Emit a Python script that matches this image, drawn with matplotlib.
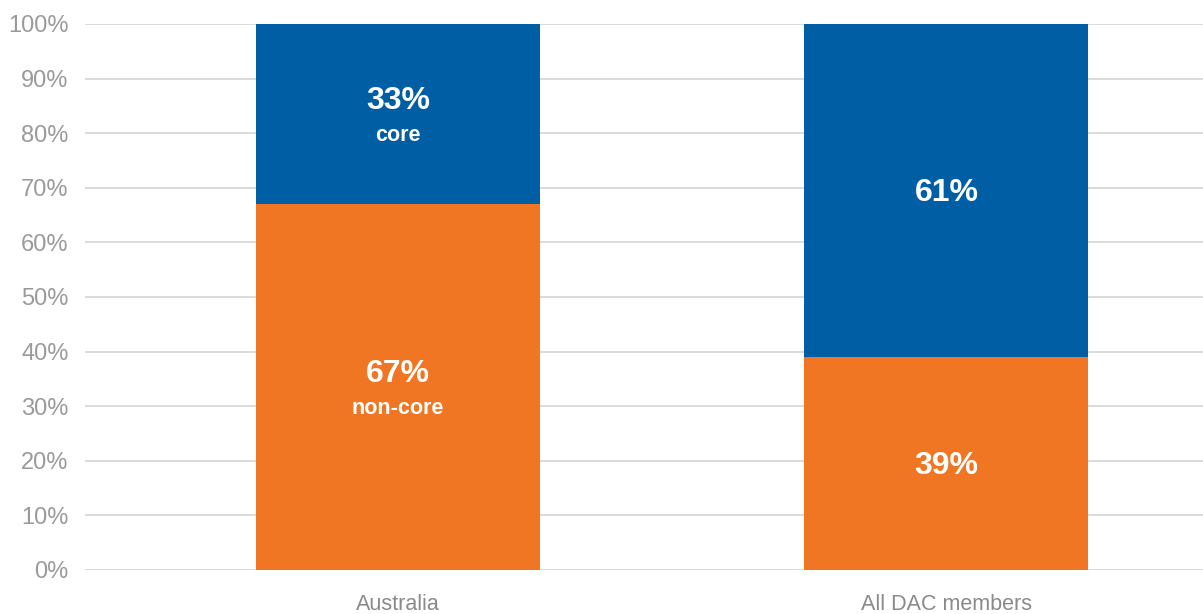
import matplotlib
matplotlib.use('Agg')
import matplotlib.pyplot as plt
import matplotlib.ticker as mticker
import numpy as np

# 数据
CATEGORIES = ['Australia', 'All DAC members']
NON_CORE = [67, 39]
CORE = [33, 61]
NON_CORE_LABELS = ['67%\nnon-core', '39%']
CORE_LABELS = ['33%\ncore', '61%']

BLUE = '#005EA5'
ORANGE = '#F07623'
GREY = '#9a9a9a'

plt.rcParams['font.family'] = ['Liberation Sans', 'DejaVu Sans']


def draw_label(ax, x, bottom, height, text):
    # 居中标注，第一行大字，第二行小字
    lines = text.split('\n')
    yc = bottom + height / 2
    if len(lines) == 1:
        ax.text(x, yc - 0.5, lines[0], ha='center', va='center', color='white',
                fontsize=23, fontweight='bold')
    else:
        ax.text(x, yc + 2.3, lines[0], ha='center', va='center', color='white',
                fontsize=23, fontweight='bold')
        ax.text(x, yc - 4.0, lines[1], ha='center', va='center', color='white',
                fontsize=15.5, fontweight='bold')


def main():
    fig = plt.figure(figsize=(12.03, 6.14), dpi=100)
    ax = fig.add_axes([0.0707, 0.0717, 0.9293, 0.8893])
    x = np.arange(len(CATEGORIES))
    w = 0.518
    ax.bar(x, NON_CORE, width=w, color=ORANGE, zorder=2)
    ax.bar(x, CORE, width=w, bottom=NON_CORE, color=BLUE, zorder=2)

    for i in range(len(x)):
        draw_label(ax, x[i], 0, NON_CORE[i], NON_CORE_LABELS[i])
        draw_label(ax, x[i], NON_CORE[i], CORE[i], CORE_LABELS[i])

    ax.set_xlim(-0.571, 1.468)
    ax.set_ylim(0, 100)
    ax.yaxis.set_major_locator(mticker.MultipleLocator(10))
    ax.yaxis.set_major_formatter(mticker.FuncFormatter(lambda v, p: '%d%%' % v))
    ax.set_xticks(x)
    ax.set_xticklabels(CATEGORIES)
    ax.grid(axis='y', color='#d4d4d4', linewidth=1.2, zorder=0)
    ax.set_axisbelow(True)
    for s in ax.spines.values():
        s.set_visible(False)
    ax.tick_params(axis='y', length=0, pad=12, labelsize=17, labelcolor=GREY)
    ax.tick_params(axis='x', length=0, pad=17, labelsize=15.5, labelcolor='#8a8a8a')
    fig.savefig('out.png', dpi=100)


if __name__ == '__main__':
    main()
